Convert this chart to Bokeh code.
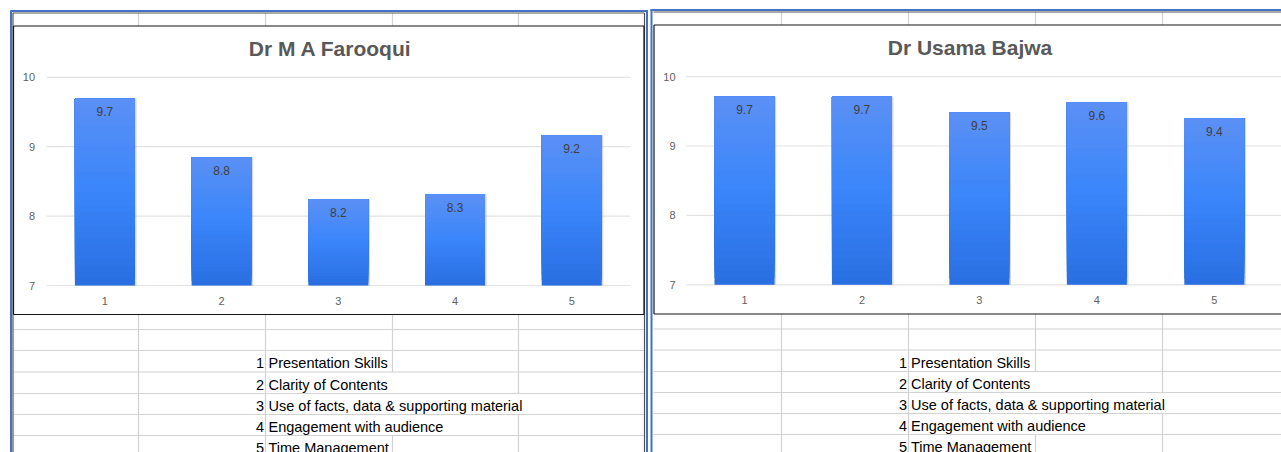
from bokeh.plotting import figure
from bokeh.models import Range1d, ColumnDataSource
from bokeh.embed import file_html
from bokeh.resources import INLINE
from bokeh.core.properties import value

# ---------------- data ----------------
categories = ["1", "2", "3", "4", "5"]
farooqui_scores = [9.69, 8.84, 8.24, 8.31, 9.16]
bajwa_scores = [9.71, 9.71, 9.48, 9.63, 9.40]
y_ticks = [7, 8, 9, 10]
y_min, y_max = 7, 10
chart_titles = ["Dr M A Farooqui", "Dr Usama Bajwa"]
criteria_numbers = ["1", "2", "3", "4", "5"]
criteria = [
    "Presentation Skills",
    "Clarity of  Contents",
    "Use of facts, data & supporting material",
    "Engagement with audience",
    "Time Management",
]

# ---------------- page / canvas ----------------
FONT = value("Liberation Sans")
W, H = 1281, 452
X0, Y0 = 0, 0          # canvas coordinates = screen pixels
p = figure(width=W, height=H, x_range=Range1d(X0, X0 + W), y_range=Range1d(Y0 + H, Y0),
           output_backend="svg", toolbar_location=None, min_border=0,
           x_axis_location=None, y_axis_location=None, tools="")
p.outline_line_color = None
p.background_fill_color = "white"
p.border_fill_color = "white"
p.grid.visible = False

SHEET = "#d2d2d2"
BLUE = "#4472c4"
DARK = "#555555"
BLACK = "#141414"
BOTTOM = 460


def seg(lst, color, width):
    p.segment(x0=[s[0] for s in lst], y0=[s[1] for s in lst],
              x1=[s[2] for s in lst], y1=[s[3] for s in lst],
              line_color=color, line_width=width)


# spreadsheet grid (left panel)
sheet = []
for y in [329, 350, 371.5, 393, 414, 435]:
    sheet.append((12.5, y, 644, y))
for x in [138, 265, 392, 518]:
    sheet.append((x, 12.5, x, 25.5))
sheet += [(138, 314, 138, BOTTOM), (265, 314, 265, BOTTOM),
          (392, 314, 392, 371.5), (392, 435, 392, BOTTOM),
          (518, 314, 518, 393), (518, 414, 518, BOTTOM)]
# spreadsheet grid (right panel)
for y in [328.5, 349.5, 371, 392, 413, 434]:
    sheet.append((653, y, 1290, y))
for x in [781, 908, 1035, 1162]:
    sheet.append((x, 11.5, x, 24.5))
sheet += [(781, 313.5, 781, BOTTOM), (908, 313.5, 908, BOTTOM),
          (1035, 313.5, 1035, 371), (1035, 434, 1035, BOTTOM),
          (1162, 313.5, 1162, 392), (1162, 413, 1162, BOTTOM)]
seg(sheet, SHEET, 1.2)

# object frames
seg([(12.5, 12.5, 644, 12.5), (12.5, 12.5, 12.5, BOTTOM), (644, 12.5, 644, BOTTOM),
     (653, 11.5, 1290, 11.5)], DARK, 1.2)
seg([(10.5, 10, 10.5, BOTTOM), (10, 10.5, 647.5, 10.5), (646.5, 10, 646.5, BOTTOM),
     (651, 9, 651, BOTTOM), (650, 9.5, 1290, 9.5)], BLUE, 2)
# chart borders
seg([(13, 25.5, 643.5, 25.5), (13, 25.5, 13, 314), (643.5, 25.5, 643.5, 314), (13, 314, 643.5, 314),
     (653.5, 24.5, 1290, 24.5), (653.5, 24.5, 653.5, 313.5), (653.5, 313.5, 1290, 313.5)], BLACK, 1.2)

# criteria table text
for num_right, txt_left, mid_y in [(263.5, 268, 362.8), (906.5, 910.5, 362.0)]:
    ys = [mid_y + 21.2 * i for i in range(len(criteria))]
    p.text(x=[num_right] * len(criteria_numbers), y=ys, text=criteria_numbers,
           text_align="right", text_baseline="middle", text_font=FONT,
           text_font_size="14.5px", text_color="#000000")
    p.text(x=[txt_left] * len(criteria), y=ys, text=criteria,
           text_align="left", text_baseline="middle", text_font=FONT,
           text_font_size="14.5px", text_color="#000000")

# ---------------- charts ----------------
charts = [
    dict(name="c1", title=chart_titles[0], scores=farooqui_scores, x_first=104.4, x_step=116.7,
         y_base=285.0, y_unit=69.4, grid_x0=46, grid_x1=630, ytick_right=34.5, xtick_y=300,
         title_x=330, title_y=48.3),
    dict(name="c2", title=chart_titles[1], scores=bajwa_scores, x_first=744.0, x_step=117.45,
         y_base=284.3, y_unit=69.4, grid_x0=686, grid_x1=1290, ytick_right=675, xtick_y=299.5,
         title_x=969.5, title_y=47.3),
]

STOPS = [(0.0, (41, 111, 226)), (0.5, (58, 134, 250)), (1.0, (93, 144, 245))]


def grad(t):
    for (t0, c0), (t1, c1) in zip(STOPS[:-1], STOPS[1:]):
        if t <= t1:
            f = (t - t0) / (t1 - t0)
            return "#%02x%02x%02x" % tuple(round(a + (b - a) * f) for a, b in zip(c0, c1))
    return "#%02x%02x%02x" % STOPS[-1][1]


N_LEVELS = 28
xs = [i + 1 for i in range(len(categories))]

for c in charts:
    xn, yn = c["name"] + "x", c["name"] + "y"
    p.extra_x_ranges[xn] = Range1d(1 + (X0 - c["x_first"]) / c["x_step"],
                                   1 + (X0 + W - c["x_first"]) / c["x_step"])
    p.extra_y_ranges[yn] = Range1d(y_min + (c["y_base"] - (Y0 + H)) / c["y_unit"],
                                   y_min + (c["y_base"] - Y0) / c["y_unit"])
    # gridlines
    p.segment(x0=[c["grid_x0"]] * len(y_ticks), x1=[c["grid_x1"]] * len(y_ticks),
              y0=y_ticks, y1=y_ticks, y_range_name=yn, line_color="#e3e3e3", line_width=1.2)
    bw = 60.0 / c["x_step"]
    # soft shadow
    p.vbar(x=[x + 1.6 / c["x_step"] for x in xs], top=c["scores"], bottom=y_min, width=bw,
           x_range_name=xn, y_range_name=yn, fill_color="#8c8c8c", fill_alpha=0.35, line_color=None)
    # gradient bars
    gx, gb, gt, gc = [], [], [], []
    for k in range(N_LEVELS):
        t = k / N_LEVELS
        for x, v in zip(xs, c["scores"]):
            gx.append(x)
            gb.append(y_min + (v - y_min) * t)
            gt.append(v)
            gc.append(grad(t))
    src = ColumnDataSource(dict(x=gx, bottom=gb, top=gt, color=gc))
    p.vbar(x="x", bottom="bottom", top="top", width=bw, source=src, fill_color="color",
           line_color=None, x_range_name=xn, y_range_name=yn)
    # data labels
    p.text(x=xs, y=c["scores"], text=["%.1f" % v for v in c["scores"]], x_range_name=xn,
           y_range_name=yn, text_align="center", text_baseline="middle", y_offset=13,
           text_font=FONT, text_font_size="12px", text_color="#404040")
    # y tick labels
    p.text(x=[c["ytick_right"]] * len(y_ticks), y=y_ticks, text=[str(t) for t in y_ticks],
           y_range_name=yn, text_align="right", text_baseline="middle",
           text_font=FONT, text_font_size="11px", text_color="#5f5f5f")
    # x tick labels
    p.text(x=xs, y=[c["xtick_y"]] * len(xs), text=categories, x_range_name=xn,
           text_align="center", text_baseline="middle",
           text_font=FONT, text_font_size="11px", text_color="#5f5f5f")
    # title
    p.text(x=[c["title_x"]], y=[c["title_y"]], text=[c["title"]], text_align="center",
           text_baseline="middle", text_font=FONT, text_font_size="21px",
           text_font_style="bold", text_color="#595959")

open("out.html", "w").write(file_html(p, INLINE))
